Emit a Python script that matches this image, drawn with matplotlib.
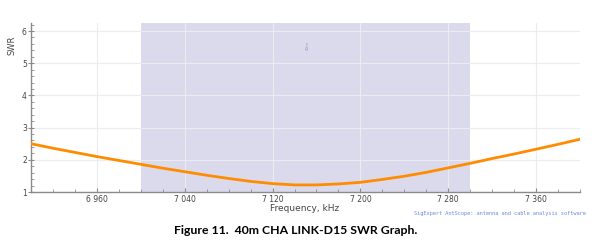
import matplotlib
matplotlib.use("Agg")
import matplotlib.pyplot as plt
from matplotlib.ticker import MultipleLocator, FuncFormatter

freq_khz = [6900, 6920, 6940, 6960, 6980, 7000, 7020, 7040, 7060, 7080, 7100,
            7120, 7140, 7160, 7180, 7200, 7220, 7240, 7260, 7280, 7300,
            7320, 7340, 7360, 7380, 7400]
swr = [2.50, 2.36, 2.23, 2.10, 1.98, 1.86, 1.74, 1.63, 1.52, 1.42, 1.33,
       1.26, 1.22, 1.22, 1.25, 1.30, 1.39, 1.49, 1.61, 1.75, 1.89,
       2.04, 2.18, 2.33, 2.48, 2.64]
band_khz = [7000, 7300]
x_ticks = [6960, 7040, 7120, 7200, 7280, 7360]
caption = "Figure 11.  40m CHA LINK-D15 SWR Graph."
watermark = "SigExpert AntScope: antenna and cable analysis software"

W, H = 600, 247
fig = plt.figure(figsize=(W / 100, H / 100), dpi=100)
ax = fig.add_axes([31 / W, 1 - 192 / H, (580 - 31) / W, (192 - 23) / H])

ax.axvspan(band_khz[0], band_khz[1], color="#dbdaec", zorder=0, lw=0)
ax.plot(freq_khz, swr, color="#ff8c00", lw=2.0, zorder=3)

ax.set_xlim(6900, 7400)
ax.set_ylim(1, 6.25)
ax.set_xticks(x_ticks)
ax.xaxis.set_minor_locator(MultipleLocator(20))
ax.yaxis.set_major_locator(MultipleLocator(1))
ax.yaxis.set_minor_locator(MultipleLocator(0.2))
ax.xaxis.set_major_formatter(FuncFormatter(lambda v, p: f"{int(v):,}".replace(",", " ")))

ax.grid(True, which="major", color="#ececf0", lw=0.8, zorder=1)
for s in ["top", "right"]:
    ax.spines[s].set_visible(False)
for s in ["left", "bottom"]:
    ax.spines[s].set_color("#8a8a8a")
    ax.spines[s].set_linewidth(1.0)

ax.tick_params(axis="x", which="major", direction="in", length=3, color="#8a8a8a",
               labelsize=5.5, labelcolor="#444444", pad=2)
ax.tick_params(axis="x", which="minor", direction="in", length=2, color="#8a8a8a")
ax.tick_params(axis="y", which="major", direction="inout", length=4, color="#8a8a8a",
               labelsize=5.5, labelcolor="#444444", pad=1)
ax.tick_params(axis="y", which="minor", direction="in", length=2, color="#8a8a8a")

fig.text(12 / W, 1 - 45 / H, "SWR", rotation=90, ha="center", va="center",
         fontsize=6, color="#444444")
fig.text(305 / W, 1 - 208.5 / H, "Frequency, kHz", ha="center", va="center",
         fontsize=6.5, color="#444444")
fig.text(586 / W, 1 - 213 / H, watermark, ha="right", va="center",
         fontsize=3.8, color="#7088e0", family="DejaVu Sans Mono")
ax.text(7152, 5.55, "40m", rotation=90, ha="center", va="center",
        fontsize=3, color="#9a9ac8", zorder=2)
fig.text(296 / W, 1 - 230 / H, caption, ha="center", va="center",
         fontsize=8.8, fontweight="bold", family="Lato", color="black")

fig.savefig("out.png", dpi=100)
